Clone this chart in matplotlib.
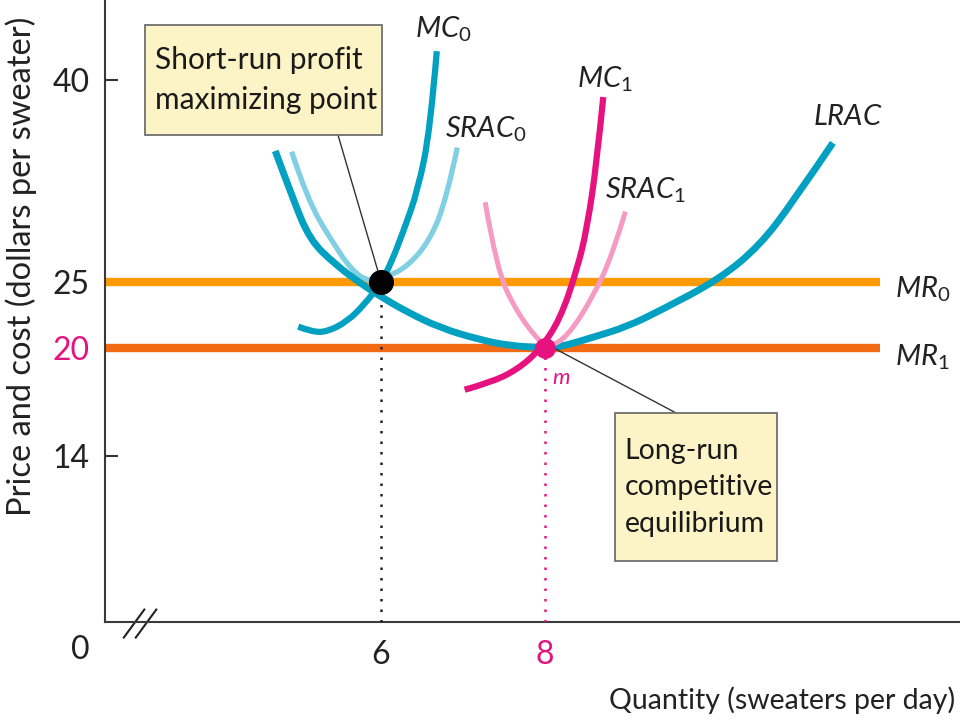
import numpy as np
import matplotlib
matplotlib.use("Agg")
import matplotlib.pyplot as plt
from matplotlib.path import Path
from matplotlib.patches import PathPatch, Rectangle

plt.rcParams['font.family'] = ['Lato', 'DejaVu Sans']
plt.rcParams['mathtext.fontset'] = 'custom'
plt.rcParams['mathtext.rm'] = 'Lato'
plt.rcParams['mathtext.it'] = 'Lato:italic'

# ---- data (quantity, price) ----
lrac_q = [4.71, 4.91, 5.13, 5.44, 5.72, 5.99, 6.29, 6.72, 7.21, 7.57, 8.00, 8.18, 8.59, 9.00, 9.40, 10.13, 10.62, 11.02, 11.51]
lrac_p = [34.7, 31.4, 28.1, 26.3, 25.0, 23.9, 22.8, 21.5, 20.6, 20.15, 20.0, 20.05, 20.8, 21.6, 22.8, 25.2, 27.7, 30.9, 35.3]

srac0_q = [4.91, 5.10, 5.41, 5.65, 5.85, 6.05, 6.32, 6.60, 6.80, 6.93]
srac0_p = [34.65, 31.1, 27.9, 25.8, 25.0, 25.3, 26.1, 28.1, 31.2, 34.95]

mc0_q = [4.99, 5.16, 5.34, 5.59, 5.80, 6.00, 6.13, 6.27, 6.45, 6.60, 6.68]
mc0_p = [21.6, 21.2, 21.2, 22.0, 23.3, 24.9, 26.5, 28.7, 31.8, 36.3, 42.1]

mc1_q = [7.02, 7.33, 7.66, 7.94, 8.18, 8.39, 8.51, 8.63, 8.71]
mc1_p = [17.67, 18.06, 18.78, 19.9, 22.1, 25.9, 28.9, 33.8, 38.7]

srac1_q = [7.27, 7.41, 7.66, 7.94, 8.04, 8.27, 8.59, 8.83, 8.98]
srac1_p = [30.9, 25.9, 22.65, 20.4, 20.05, 20.8, 23.9, 27.15, 30.2]

mr0_price = 25
mr1_price = 20
mr_end_q = 12.09

sr_point = (6, 25)
lr_point = (8, 20)

y_ticks = [40, 25, 20, 14]
y_ticklabels = ['40', '25', '20', '14']
x_ticks = [6, 8]
x_ticklabels = ['6', '8']

# ---- broken (schematic) vertical scale ----
_vals = np.array([-100.0, 0.0, 14.0, 20.0, 25.0, 40.0, 46.0, 200.0])
_hs = np.array([-1186.0, 0.0, 166.0, 274.0, 340.0, 542.0, 622.8, 2696.0])
def fwd(v):
    return np.interp(v, _vals, _hs)
def inv(h):
    return np.interp(h, _hs, _vals)

TEAL = '#02a0c1'
LIGHTBLUE = '#80cfe3'
MAGENTA = '#e6127f'
PINK = '#f59ac3'
ORANGE = '#ff9b00'
ORANGERED = '#f36a14'
BOXFILL = '#fcf4c6'

fig = plt.figure(figsize=(9.6, 7.2), dpi=100)
ax = fig.add_axes([105/960, 98/720, 1 - 105/960, 622/720])
ax.set_yscale('function', functions=(fwd, inv))
ax.set_xlim(2.634, 13.06)
ax.set_ylim(0, 45.9)

for s in ['top', 'right']:
    ax.spines[s].set_visible(False)
for s in ['left', 'bottom']:
    ax.spines[s].set_color('#3a3a3a')
    ax.spines[s].set_linewidth(1.5)


def smooth_curve(q, p, color, lw, z):
    """Draw the read points as a smooth quadratic B-spline path (points are control points)."""
    pts = np.column_stack([q, p]).astype(float)
    verts = [pts[0]]
    codes = [Path.MOVETO]
    n = len(pts)
    for i in range(1, n - 1):
        end = pts[-1] if i == n - 2 else (pts[i] + pts[i + 1]) / 2
        verts += [pts[i], end]
        codes += [Path.CURVE3, Path.CURVE3]
    patch = PathPatch(Path(verts, codes), fill=False, edgecolor=color, lw=lw,
                      capstyle='butt', joinstyle='round', zorder=z)
    ax.add_patch(patch)


# marginal revenue lines
ax.plot([2.634, mr_end_q], [mr1_price, mr1_price], color=ORANGERED, lw=6, solid_capstyle='butt', zorder=2)
ax.plot([2.634, mr_end_q], [mr0_price, mr0_price], color=ORANGE, lw=6, solid_capstyle='butt', zorder=2)

# cost curves
smooth_curve(srac0_q, srac0_p, LIGHTBLUE, 3.8, 3)
smooth_curve(lrac_q, lrac_p, TEAL, 5, 4)
smooth_curve(mc0_q, mc0_p, TEAL, 4.5, 4)
smooth_curve(srac1_q, srac1_p, PINK, 3.6, 5)
smooth_curve(mc1_q, mc1_p, MAGENTA, 4.5, 6)

# dotted drop lines
ax.plot([sr_point[0], sr_point[0]], [0, sr_point[1]], color='#222222', lw=1.8, ls=(0, (1, 3.2)), zorder=3)
ax.plot([lr_point[0], lr_point[0]], [0, lr_point[1]], color=MAGENTA, lw=1.8, ls=(0, (1, 3.2)), zorder=3)

# points
ax.plot([sr_point[0]], [sr_point[1]], 'o', color='black', ms=17, zorder=8)
ax.plot([lr_point[0]], [lr_point[1]], 'o', color=MAGENTA, ms=14, zorder=8)

# curve labels
lab_kw = dict(fontsize=21, color='#222222', va='center', ha='left')
ax.text(6.41, 43.7, r'$\mathit{MC}_{\mathrm{0}}$', **lab_kw)
ax.text(6.78, 36.3, r'$\mathit{SRAC}_{\mathrm{0}}$', **lab_kw)
ax.text(8.39, 40.0, r'$\mathit{MC}_{\mathrm{1}}$', **lab_kw)
ax.text(8.73, 31.75, r'$\mathit{SRAC}_{\mathrm{1}}$', **lab_kw)
ax.text(11.27, 37.2, r'$\mathit{LRAC}$', **lab_kw)
ax.text(12.27, 24.4, r'$\mathit{MR}_{\mathrm{0}}$', **lab_kw)
ax.text(12.27, 19.5, r'$\mathit{MR}_{\mathrm{1}}$', **lab_kw)
ax.text(8.09, 18.3, r'$\mathit{m}$', fontsize=16, color=MAGENTA, va='center', ha='left')

# annotation boxes (callouts)
def callout(x0, y0, x1, y1, text, tx, fs, ls, anchor, target):
    ax.add_patch(Rectangle((x0, y0), x1 - x0, y1 - y0, transform=ax.transAxes,
                           fc=BOXFILL, ec='#707070', lw=1.3, zorder=9, clip_on=False))
    ax.text(tx, (y0 + y1) / 2, text, transform=ax.transAxes, fontsize=fs,
            linespacing=ls, ha='left', va='center', color='#1a1a1a', zorder=10)
    ax.annotate('', xy=target, xycoords='data', xytext=anchor, textcoords='axes fraction',
                arrowprops=dict(arrowstyle='-', color='#333333', lw=1.0,
                                shrinkA=0, shrinkB=0), zorder=7)

callout(0.0468, 0.783, 0.324, 0.960, 'Short-run profit\nmaximizing point', 0.0585, 21.5, 1.55,
        (0.2725, 0.783), sr_point)
callout(0.5965, 0.098, 0.786, 0.336, 'Long-run\ncompetitive\nequilibrium', 0.608, 20.5, 1.5,
        (0.668, 0.336), (8.1, 20.0))

# ticks
ax.set_yticks(y_ticks)
ax.set_yticklabels(y_ticklabels)
ax.tick_params(axis='y', direction='in', length=9, width=1.5, color='#333333',
               labelsize=23, pad=11, labelcolor='#222222')
for lbl in ax.get_yticklabels():
    if lbl.get_text() == '20':
        lbl.set_color(MAGENTA)
ax.set_xticks(x_ticks)
ax.set_xticklabels(x_ticklabels)
ax.tick_params(axis='x', length=0, labelsize=23, pad=13, labelcolor='#222222')
for lbl in ax.get_xticklabels():
    if lbl.get_text() == '8':
        lbl.set_color(MAGENTA)

# origin label and axis break
fig.text(80/960, 1 - 650/720, '0', fontsize=23, color='#222222', ha='center', va='center')
ax.plot([0.022, 0.046], [-0.025, 0.02], transform=ax.transAxes, color='#222222', lw=1.5, clip_on=False)
ax.plot([0.036, 0.060], [-0.025, 0.02], transform=ax.transAxes, color='#222222', lw=1.5, clip_on=False)

# axis titles
fig.text(21/960, 1 - 266/720, 'Price and cost (dollars per sweater)', rotation=90,
         fontsize=23.5, color='#222222', ha='center', va='center')
fig.text(955/960, 1 - 700/720, 'Quantity (sweaters per day)', fontsize=20.5,
         color='#222222', ha='right', va='center')

fig.savefig('out.png', dpi=100)
